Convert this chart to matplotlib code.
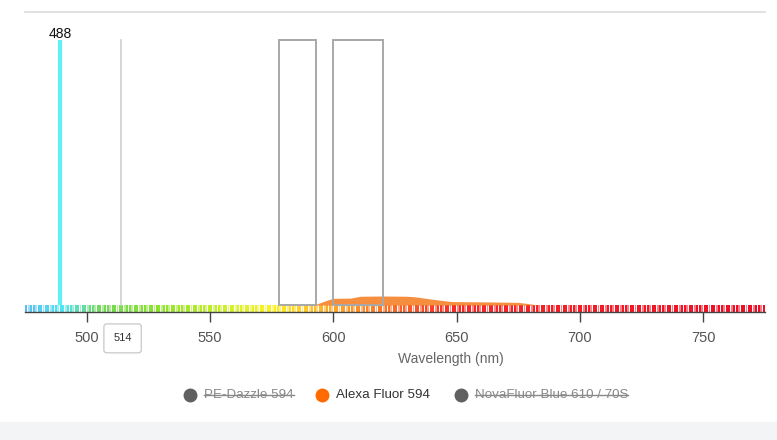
import matplotlib
matplotlib.use("Agg")
import matplotlib.pyplot as plt
from matplotlib.patches import Rectangle
import matplotlib.transforms as mtransforms
import numpy as np

plt.rcParams["font.family"] = ["Liberation Sans", "DejaVu Sans"]

# ---- data ----
laser_lines = [488]
laser_labels = ["488"]
marker_line = 514
filter_centers = [585.5, 610]
filter_widths = [15, 20]
filter_height = 100
em_wl = [590, 593, 598, 600, 607, 611, 620, 630, 633, 640, 648, 660, 675, 680, 683]
em_val = [0, 0.3, 2.0, 2.5, 2.6, 3.3, 3.4, 3.3, 3.1, 2.2, 1.3, 1.2, 1.0, 0.4, 0]
legend_names = ["PE-Dazzle 594", "Alexa Fluor 594", "NovaFluor Blue 610 / 70S"]
legend_colors = ["#606060", "#ff6a00", "#606060"]
legend_hidden = [True, False, True]
xticks = [500, 550, 600, 650, 700, 750]

W, H = 777, 440
fig = plt.figure(figsize=(W / 100, H / 100), dpi=100)
fig.patch.set_facecolor("white")
fig.add_artist(Rectangle((0, 0), 1, 18 / H, transform=fig.transFigure,
                         color="#f3f4f6", zorder=-5))

ax = fig.add_axes([25 / W, (H - 312) / H, 740 / W, 300 / H])
ax.set_xlim(475, 775)
ax.set_ylim(-2.64, 110.6)
ax.set_facecolor("white")

for s in ["left", "right"]:
    ax.spines[s].set_visible(False)
ax.spines["top"].set_color("#dcdcdc")
ax.spines["top"].set_linewidth(1.2)
ax.spines["bottom"].set_color("#444444")
ax.spines["bottom"].set_linewidth(1.0)
ax.set_yticks([])
ax.set_xticks(xticks)
ax.tick_params(axis="x", direction="out", length=7, width=1, color="#444444",
               labelsize=10.5, labelcolor="#555555", pad=7)
fig.text(451 / W, 1 - 359 / H, "Wavelength (nm)", ha="center", va="center",
         fontsize=10, color="#666666")


# spectrum band
def wl_rgb(w):
    pts = [(475, (0.35, 0.75, 0.95)), (490, (0.30, 0.90, 0.95)),
           (505, (0.45, 0.85, 0.35)), (530, (0.55, 0.90, 0.15)),
           (560, (0.85, 0.95, 0.15)), (575, (1.0, 0.95, 0.1)),
           (595, (1.0, 0.70, 0.15)), (620, (1.0, 0.45, 0.15)),
           (650, (0.98, 0.15, 0.15)), (775, (0.92, 0.05, 0.15))]
    ws = [p[0] for p in pts]
    c = [np.interp(w, ws, [p[1][i] for p in pts]) for i in range(3)]
    return tuple(c)


band_w = np.arange(475, 775, 1.0)
for i, w in enumerate(band_w):
    c = wl_rgb(w)
    if i % 3 == 1:
        c = tuple(0.55 * np.array(c) + 0.45)
    ax.bar(w + 0.5, -2.64, width=0.8, bottom=0, color=c, linewidth=0, zorder=1)

# filters
for c, wd in zip(filter_centers, filter_widths):
    ax.add_patch(Rectangle((c - wd / 2, 0), wd, filter_height, fill=False,
                           edgecolor="#a8a8a8", linewidth=1.4, zorder=3))

# emission
ax.fill_between(em_wl, 0, em_val, color="#f57a1e", alpha=0.85, linewidth=0, zorder=2)

# laser (drawn a few pixels right, as in the reference)
shift = mtransforms.offset_copy(ax.transData, fig=fig, x=3, y=0, units="dots")
for lw, lab in zip(laser_lines, laser_labels):
    ax.plot([lw, lw], [0, 100], color="#5ff0f5", linewidth=3, zorder=4,
            solid_capstyle="butt", transform=shift)
    ax.text(lw, 99.5, lab, ha="center", va="bottom", fontsize=10,
            color="#111111", transform=shift)

# marker line
ax.plot([marker_line, marker_line], [0, 100], color="#cfcfcf", linewidth=1.2, zorder=3)
ax.annotate(str(marker_line), xy=(marker_line, -2.64), xytext=(1, -19),
            textcoords="offset points", ha="center", va="center", fontsize=8,
            color="#333333",
            bbox=dict(boxstyle="round,pad=0.85,rounding_size=0.25", fc="white",
                      ec="#c8c8c8", lw=0.9),
            annotation_clip=False)

# legend
fig.canvas.draw()
rend = fig.canvas.get_renderer()
mx = [190, 322, 461]
ly = 1 - 395 / H
for x, name, col, hid in zip(mx, legend_names, legend_colors, legend_hidden):
    fig.add_artist(plt.Line2D([x / W], [ly], marker="o", markersize=9,
                              color=col, transform=fig.transFigure, linestyle="none"))
    t = fig.text((x + 14) / W, ly, name, ha="left", va="center", fontsize=9.6,
                 color="#888888" if hid else "#333333")
    if hid:
        bb = t.get_window_extent(rend)
        fig.add_artist(plt.Line2D([bb.x0 / W, bb.x1 / W], [ly, ly], color="#888888",
                                  linewidth=1.0, transform=fig.transFigure))

fig.savefig("out.png", dpi=100)
